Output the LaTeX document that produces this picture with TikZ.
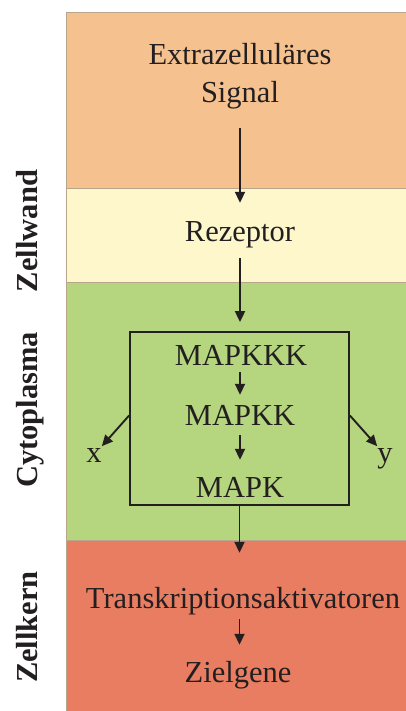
\documentclass[tikz,border=0pt]{standalone}
\usepackage{fontspec}
\setmainfont{Liberation Serif}
\usetikzlibrary{arrows.meta}
\definecolor{ink}{HTML}{231F20}
\definecolor{bandO}{HTML}{F4C18F}
\definecolor{bandY}{HTML}{FEF7CC}
\definecolor{bandG}{HTML}{B5D57F}
\definecolor{bandR}{HTML}{E97D61}
\definecolor{edge}{HTML}{B9A58C}
\begin{document}
\begin{tikzpicture}[x=1pt,y=-1pt,
  lbl/.style={font=\fontsize{30.5}{34}\selectfont, text=ink, inner sep=0pt,
              text height=21pt, text depth=7pt, anchor=base},
  side/.style={font=\fontsize{30.5}{34}\selectfont\bfseries, text=ink,
               rotate=90, anchor=base, inner sep=0pt},
  arr/.style={draw=ink, line width=1.9pt, -{Triangle[length=11pt,width=10pt]}},
  bandline/.style={draw=edge, line width=0.5pt}]
\useasboundingbox[fill=white] (0,0) rectangle (406,711);
% bands
\fill[bandO] (66,12) rectangle (406,188);
\fill[bandY] (66,188) rectangle (406,282);
\fill[bandG] (66,282) rectangle (406,540);
\fill[bandR] (66,540) rectangle (406,711);
\draw[bandline] (406,12) -- (66,12) -- (66,711);
\draw[bandline] (66,188) -- (406,188);
\draw[bandline] (66,282) -- (406,282);
\draw[bandline] (66,540) -- (406,540);
% side labels
\node[side] (zw) at (37,231) {Zellwand};
\node[side] (cy) at (37,410) {Cytoplasma};
\node[side] (zk) at (37,627) {Zellkern};
% texts
\node[lbl] (sig1) at (240,65) {Extrazelluläres};
\node[lbl] (sig2) at (240,103) {Signal};
\node[lbl] (rez) at (240,241) {Rezeptor};
\node[draw=ink, line width=1.8pt, minimum width=219pt, minimum height=173pt,
      inner sep=0pt] (box) at (239.5,418.5) {};
\node[lbl] (m3) at (241,365) {MAPKKK};
\node[lbl] (m2) at (240,425) {MAPKK};
\node[lbl] (m1) at (240,497) {MAPK};
\node[lbl] (xl) at (94,462) {x};
\node[lbl] (yl) at (385,462) {y};
\node[lbl] (tr) at (243,608) {Transkriptionsaktivatoren};
\node[lbl] (zg) at (238,682) {Zielgene};
% arrows
\draw[arr, shorten <=18pt, shorten >=17pt] (sig2.south) -- (sig2.south |- rez.north);
\draw[arr, shorten <=10pt, shorten >=9pt] (rez.south) -- (rez.south |- box.north);
\draw[arr, shorten >=9pt] (m2.north |- m3.south) -- (m2.north);
\draw[arr, shorten <=3pt, shorten >=16pt] (m2.south) -- (m1.north);
\draw[arr] ([yshift=3pt]box.west) -- (xl);
\draw[arr] ([yshift=3pt]box.east) -- (yl);
\draw[arr, shorten >=34pt] (box.south) -- (box.south |- tr.north);
\draw[arr, shorten <=4pt, shorten >=16pt] (box.south |- tr.south) -- (box.south |- zg.north);
\end{tikzpicture}
\end{document}
